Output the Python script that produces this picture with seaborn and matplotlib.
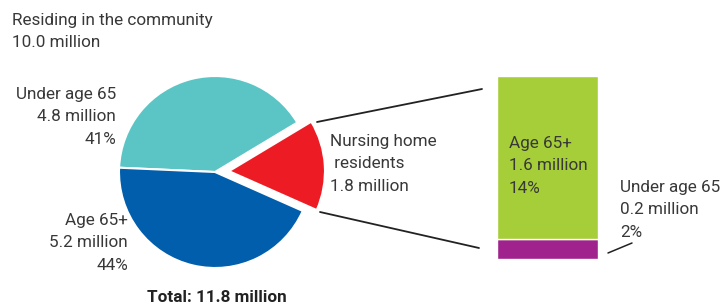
import matplotlib
matplotlib.use("Agg")
import matplotlib.pyplot as plt
import seaborn as sns

# pie: community split + nursing home (exploded)
pie_labels = ["Under age 65", "Age 65+", "Nursing home residents"]
pie_values = [4.8, 5.2, 1.8]
pie_colors = ["#5bc5c6", "#005eac", "#ed1c24"]

# bar: nursing home split
bar_labels = ["Under age 65", "Age 65+"]
bar_values = [0.2, 1.6]
bar_pct = [2, 14]
bar_colors = ["#a0228d", "#a6ce39"]

community_total = 10.0
grand_total = 11.8

sns.set_theme(style="white")
plt.rcParams["font.family"] = ["Roboto", "DejaVu Sans"]
txt = "#383838"

W, H = 726, 307
fig = plt.figure(figsize=(W / 100, H / 100), dpi=100)

# stacked bar (behind the main layer so labels sit on top)
bx = fig.add_axes([497 / W, (H - 259) / H, 101 / W, 183 / H])
bottom = 0
for v, c in zip(bar_values, bar_colors):
    bx.bar(0, v, bottom=bottom, width=1, color=c, edgecolor="white", linewidth=1)
    bottom += v
bx.set_xlim(-0.5, 0.5)
bx.set_ylim(0, sum(bar_values))
bx.axis("off")
bx.set_zorder(0)

ax = fig.add_axes([0, 0, 1, 1])
ax.set_zorder(1)

def Y(y):
    return H - y

ax.pie(pie_values, colors=pie_colors, startangle=31, counterclock=True,
       explode=[0, 0, 14], center=(215, Y(172)), radius=96, frame=True,
       wedgeprops=dict(edgecolor="white", linewidth=1.5))
ax.set_xlim(0, W)
ax.set_ylim(0, H)
ax.set_aspect("equal")
ax.axis("off")

fs = 12.3
kw = dict(fontsize=fs, color=txt, linespacing=1.62)
ax.text(12, Y(13), f"Residing in the community\n{community_total:.1f} million",
        ha="left", va="top", **kw)
ax.text(116, Y(87), f"{pie_labels[0]}\n{pie_values[0]:.1f} million\n"
        f"{round(pie_values[0] / grand_total * 100)}%",
        ha="right", va="top", **kw)
ax.text(128, Y(213), f"{pie_labels[1]}\n{pie_values[1]:.1f} million\n"
        f"{round(pie_values[1] / grand_total * 100)}%",
        ha="right", va="top", **kw)
ax.text(330, Y(134), f"Nursing home\n residents\n{pie_values[2]:.1f} million",
        ha="left", va="top", **kw)
ax.text(217, Y(302), f"Total: {grand_total:.1f} million", ha="center",
        va="baseline", fontsize=fs, color="#222222", fontweight="bold")

# connector lines
ax.plot([317, 482], [Y(122), Y(89)], color="#222222", lw=1.3)
ax.plot([320, 479], [Y(212), Y(248)], color="#222222", lw=1.3)
ax.plot([608, 632], [Y(253), Y(243)], color="#222222", lw=1.1)

ax.text(509, Y(136), f"{bar_labels[1]}\n{bar_values[1]:.1f} million\n{bar_pct[1]}%",
        ha="left", va="top", **kw)
ax.text(620, Y(180), f"{bar_labels[0]}\n{bar_values[0]:.1f} million\n{bar_pct[0]}%",
        ha="left", va="top", **kw)

fig.savefig("out.png", dpi=100)
